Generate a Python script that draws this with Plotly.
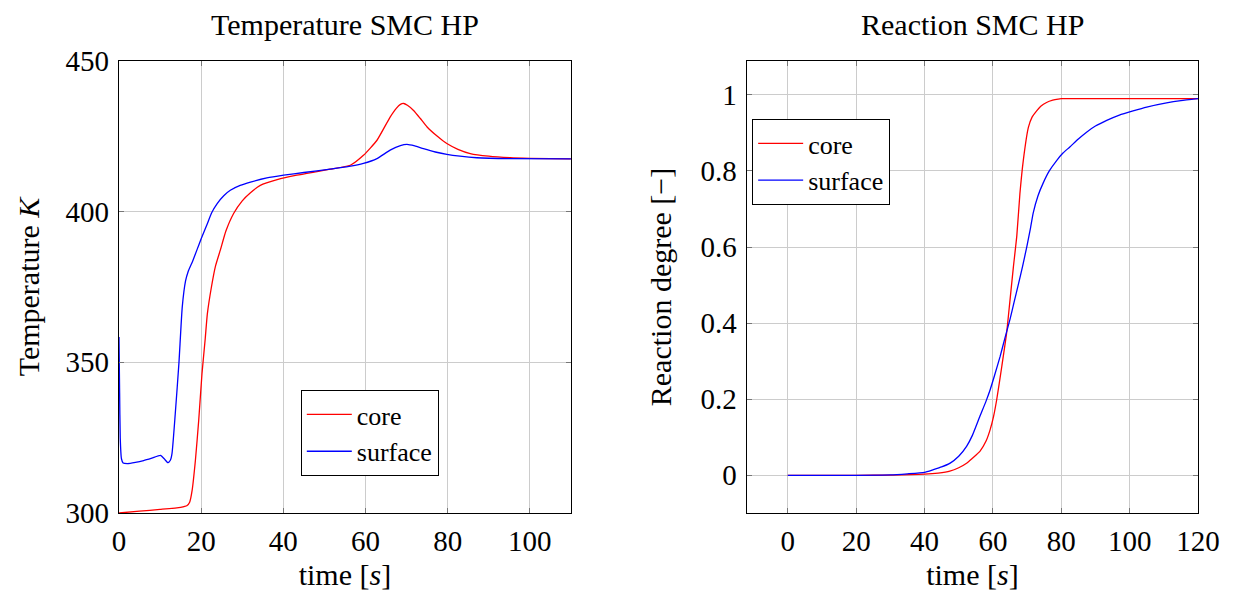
import plotly.graph_objects as go
from plotly.subplots import make_subplots

# temperature, core
t_core = [0, 5, 10, 15, 16.5, 17.2, 17.8, 18.6, 19.4, 20.2, 21.0, 21.5, 22.5, 23.5, 24.7,
          26, 27.9, 30, 32, 34.4, 38.5, 43.3, 48.2, 51.4, 56.3, 59.5, 62.8, 66, 67.5, 68.5,
          69.3, 70.2, 71.7, 73.3, 75, 77.5, 79.8, 82.5, 85.5, 90, 95.2, 100, 110]
temp_core = [300.0, 300.6, 301.2, 301.9, 302.4, 303.6, 307.5, 317.5, 330.7, 346.2, 358, 366,
             375, 382, 387.4, 393.5, 399.4, 403.6, 406.3, 408.7, 410.6, 412.1, 413.3, 414.1,
             415.4, 418.7, 423.7, 431.4, 434.3, 435.6, 435.9, 435.3, 433.6, 431, 428.1, 425,
             422.6, 420.7, 419.3, 418.4, 417.9, 417.7, 417.5]

# temperature, surface
t_surf = [0, 0.15, 0.3, 0.6, 1.0, 2, 4, 6, 8, 10.1, 11, 11.9, 12.5, 12.9, 13.7, 14.6, 15.4,
          16.2, 16.8, 17.9, 19.0, 20.0, 21.5, 22.5, 23.9, 25.5, 27.1, 29.5, 32, 36, 40.1,
          45, 51.4, 56, 59.5, 62.8, 66, 68.5, 70.1, 72, 74.1, 77, 79.8, 83, 87.1, 95, 110]
temp_surf = [358.4, 340, 325, 318, 316.6, 316.4, 316.8, 317.4, 318.2, 319.1, 318.0, 316.7,
             317.5, 319.7, 333, 350, 368.4, 377, 380, 383.5, 387.4, 391, 396, 399.5, 402.7,
             405.3, 407.1, 408.7, 409.8, 411.2, 412.1, 413, 414.1, 415, 416, 417.6, 420.4,
             421.9, 422.3, 421.8, 420.9, 419.8, 419, 418.4, 417.9, 417.6, 417.5]

# reaction degree, core
r_core_t = [0, 10, 20, 30, 40, 44, 47.4, 50, 52.3, 54, 56.2, 58, 59.2, 60.2, 61.1, 62.6, 64.0,
            65.0, 66.0, 67.0, 67.9, 68.9, 70.4, 71.5, 72.8, 74, 75.7, 77.5, 79.1, 80, 90, 100,
            110, 120]
r_core = [0, 0, 0, 0.0005, 0.003, 0.006, 0.011, 0.02, 0.032, 0.045, 0.063, 0.09, 0.12, 0.155,
          0.198, 0.286, 0.373, 0.46, 0.548, 0.63, 0.74, 0.828, 0.915, 0.942, 0.958, 0.97, 0.98,
          0.986, 0.989, 0.99, 0.99, 0.99, 0.99, 0.99]

# reaction degree, surface
r_surf_t = [0, 10, 20, 30, 35, 40, 42.6, 45, 47.5, 50, 52.3, 54, 56.2, 58, 59.2, 60.5, 62.1,
            63.5, 65.0, 66.2, 67.4, 68.7, 69.9, 71.0, 71.8, 73.2, 74.7, 76.5, 78.7, 80.5, 82.5,
            85, 87.4, 90, 93.3, 97, 101, 105, 110.8, 115, 120]
r_surf = [0, 0, 0, 0.001, 0.004, 0.008, 0.015, 0.022, 0.032, 0.05, 0.076, 0.105, 0.155, 0.195,
          0.225, 0.263, 0.312, 0.36, 0.41, 0.455, 0.5, 0.55, 0.6, 0.65, 0.69, 0.735, 0.768, 0.8,
          0.828, 0.847, 0.863, 0.884, 0.902, 0.918, 0.933, 0.947, 0.958, 0.968, 0.979, 0.985,
          0.99]

FONT = '"Liberation Serif", "Times New Roman", serif'
RED = "#ff0000"
BLUE = "#0000ff"

fig = make_subplots(rows=1, cols=2)

line_kw = dict(width=1.3, shape="spline", smoothing=0.5)
fig.add_trace(go.Scatter(x=t_core, y=temp_core, mode="lines", name="core",
                         line=dict(line_kw, color=RED), legend="legend"), row=1, col=1)
fig.add_trace(go.Scatter(x=t_surf, y=temp_surf, mode="lines", name="surface",
                         line=dict(line_kw, color=BLUE), legend="legend"), row=1, col=1)
fig.add_trace(go.Scatter(x=r_core_t, y=r_core, mode="lines", name="core",
                         line=dict(line_kw, color=RED), legend="legend2"), row=1, col=2)
fig.add_trace(go.Scatter(x=r_surf_t, y=r_surf, mode="lines", name="surface",
                         line=dict(line_kw, color=BLUE), legend="legend2"), row=1, col=2)

axis_style = dict(showline=True, linecolor="black", linewidth=1.2, mirror="ticks",
                  ticks="inside", ticklen=5, tickcolor="#777777", tickwidth=1,
                  showgrid=True, gridcolor="#cccccc", gridwidth=1, zeroline=False,
                  tickfont=dict(family=FONT, size=29, color="black"),
                  automargin=False)
title_font = dict(family=FONT, size=30, color="black")

fig.update_xaxes(axis_style, ticklabelstandoff=2)
fig.update_yaxes(axis_style, ticklabelstandoff=3)

# the page body adds 8px, so the figure is 8px smaller than the window
fig.update_xaxes(domain=[0, 0.4188], range=[0, 110], dtick=20, tick0=0,
                 title=dict(text="time [<i>s</i>]", font=title_font, standoff=8),
                 row=1, col=1)
fig.update_yaxes(range=[300, 450], dtick=50, tick0=300,
                 title=dict(text="Temperature <i>K</i>", font=title_font, standoff=17),
                 row=1, col=1)
fig.update_xaxes(domain=[0.5818, 1], range=[-12, 120], dtick=20, tick0=0,
                 title=dict(text="time [<i>s</i>]", font=title_font, standoff=8),
                 row=1, col=2)
fig.update_yaxes(range=[-0.099, 1.089], dtick=0.2, tick0=0,
                 title=dict(text="Reaction degree [−]", font=title_font, standoff=20),
                 row=1, col=2)

legend_style = dict(bgcolor="white", bordercolor="black", borderwidth=1,
                    font=dict(family=FONT, size=26, color="black"),
                    xanchor="left", yanchor="top", tracegroupgap=0, itemwidth=45)

fig.update_layout(
    width=1226, height=593,
    margin=dict(l=110.5, r=35.7, t=52.7, b=88.3, autoexpand=False),
    plot_bgcolor="white", paper_bgcolor="white",
    showlegend=True,
    legend=dict(legend_style, x=0.1685, y=0.272),
    legend2=dict(legend_style, x=0.5868, y=0.8717),
    annotations=[
        dict(text="Temperature SMC HP", x=0.2094, y=1.081, xref="paper", yref="paper",
             showarrow=False, xanchor="center", yanchor="middle",
             font=dict(title_font, size=30)),
        dict(text="Reaction SMC HP", x=0.7909, y=1.081, xref="paper", yref="paper",
             showarrow=False, xanchor="center", yanchor="middle",
             font=dict(title_font, size=30)),
    ],
)

fig.write_html("out.html")
